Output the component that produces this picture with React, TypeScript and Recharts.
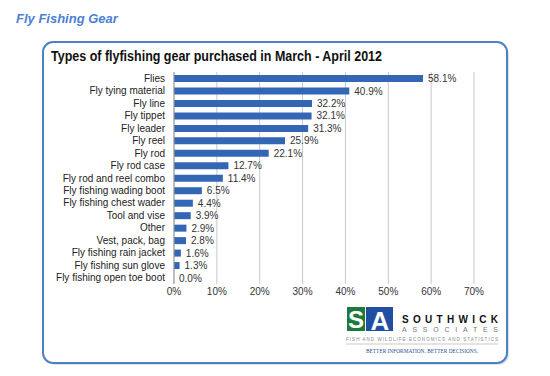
import React from "react";
import {
  BarChart, Bar, XAxis, YAxis, CartesianGrid, LabelList,
} from "recharts";

// --- data ---
const gearTypes = [
  "Flies",
  "Fly tying material",
  "Fly line",
  "Fly tippet",
  "Fly leader",
  "Fly reel",
  "Fly rod",
  "Fly rod case",
  "Fly rod and reel combo",
  "Fly fishing wading boot",
  "Fly fishing chest wader",
  "Tool and vise",
  "Other",
  "Vest, pack, bag",
  "Fly fishing rain jacket",
  "Fly fishing sun glove",
  "Fly fishing open toe boot",
];
const sharePct = [58.1, 40.9, 32.2, 32.1, 31.3, 25.9, 22.1, 12.7, 11.4, 6.5, 4.4, 3.9, 2.9, 2.8, 1.6, 1.3, 0.0];
const xTicks = [0, 10, 20, 30, 40, 50, 60, 70];

// label kept as a string so the 0.0% row still gets its label
const rows = gearTypes.map((name, i) => ({
  name,
  value: sharePct[i],
  label: `${sharePct[i].toFixed(1)}%`,
}));

const FONT = "'Liberation Sans', Arial, sans-serif";

// value label drawn by hand so a zero-width bar still shows "0.0%"
const ValueLabel = (props: any) => {
  const { x, y, width, height, value } = props;
  return (
    <text x={x + (width || 0) + 5} y={y + height / 2} dy="0.355em"
      fontSize={10} fill="#333" fontFamily={FONT}>
      {value}
    </text>
  );
};

// --- frame, titles and logo ---
function Backdrop() {
  return (
    <svg width={550} height={376} style={{ position: "absolute", left: 0, top: 0 }}>
      <text x={16} y={23} fontFamily={FONT} fontSize={13} fontWeight="bold" fontStyle="italic" fill="#4a7fd4">
        Fly Fishing Gear
      </text>
      <rect x={45} y={44} width={464} height={321} rx={10} fill="#dde3ea" />
      <rect x={43} y={42} width={464} height={321} rx={10} fill="#fff" stroke="#4f80c0" strokeWidth={2} />
      <text x={51} y={61} fontFamily={FONT} fontSize={14} fontWeight="bold" fill="#111"
        textLength={331} lengthAdjust="spacingAndGlyphs">
        Types of flyfishing gear purchased in March - April 2012
      </text>

      {/* Southwick logo */}
      <rect x={347} y={307} width={18} height={24} fill="#1d7a3c" />
      <rect x={366} y={307} width={27} height={24} fill="#1f4ea3" />
      <text x={356} y={328} textAnchor="middle" fontFamily={FONT} fontSize={24} fontWeight="bold" fill="#fff">S</text>
      <text x={380} y={330} textAnchor="middle" fontFamily={FONT} fontSize={26} fontWeight="bold" fill="#fff">A</text>
      <text x={402} y={323} fontFamily={FONT} fontSize={10} fontWeight="bold" fill="#111"
        textLength={96} lengthAdjust="spacing">SOUTHWICK</text>
      <text x={402} y={332} fontFamily={FONT} fontSize={7} fill="#777"
        textLength={96} lengthAdjust="spacing">ASSOCIATES</text>
      <text x={346} y={341} fontFamily={FONT} fontSize={4.5} fill="#888"
        textLength={152} lengthAdjust="spacing">FISH AND WILDLIFE ECONOMICS AND STATISTICS</text>
      <line x1={346} x2={498} y1={344} y2={344} stroke="#bbb" strokeWidth={0.8} />
      <text x={366} y={353} fontFamily="'Liberation Serif', serif" fontSize={6.5} fill="#2a4f9a"
        textLength={112} lengthAdjust="spacingAndGlyphs">BETTER INFORMATION. BETTER DECISIONS.</text>
    </svg>
  );
}

export default function App() {
  return (
    <div style={{ position: "absolute", left: 0, top: 0, width: 550, height: 376 }}>
      <Backdrop />
      <div style={{ position: "absolute", left: 0, top: 0 }}>
        <BarChart
          width={550}
          height={376}
          data={rows}
          layout="vertical"
          margin={{ top: 72, right: 76, bottom: 72, left: 0 }}
          barSize={7}
        >
          <CartesianGrid horizontal={false} stroke="#c8c8c8" />
          <XAxis
            type="number"
            domain={[0, 70]}
            ticks={xTicks}
            tickFormatter={(v) => `${v}%`}
            axisLine={false}
            tickLine={false}
            tickSize={0}
            tickMargin={4}
            height={20}
            tick={{ fontSize: 10, fill: "#333", fontFamily: FONT }}
          />
          <YAxis
            type="category"
            dataKey="name"
            width={174}
            interval={0}
            axisLine={{ stroke: "#999" }}
            tickLine={false}
            tickSize={0}
            tickMargin={9}
            tick={{ fontSize: 10, fill: "#222", fontFamily: FONT }}
          />
          <Bar dataKey="value" fill="#3366b5" minPointSize={0.01} isAnimationActive={false}>
            <LabelList dataKey="label" content={ValueLabel} />
          </Bar>
        </BarChart>
      </div>
    </div>
  );
}
